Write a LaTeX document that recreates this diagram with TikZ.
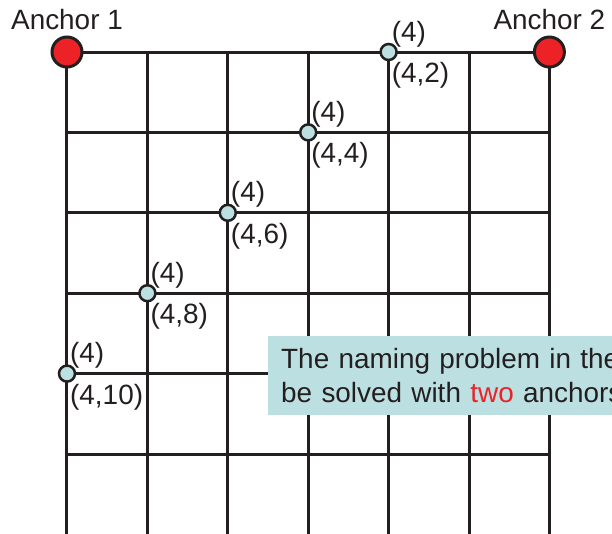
\documentclass[tikz,border=0pt]{standalone}
\usepackage{fontspec}
\setmainfont{Liberation Sans}
\usetikzlibrary{positioning}
\definecolor{nmink}{HTML}{231F20}
\definecolor{nmred}{HTML}{EC2227}
\definecolor{nmcyan}{HTML}{BCE0E2}
\tikzset{
  anchornode/.style={circle,draw=nmink,line width=3bp,fill=nmred,minimum size=30bp,inner sep=0pt},
  relay/.style={circle,draw=nmink,line width=2.5bp,fill=nmcyan,minimum size=16bp,inner sep=0pt},
  lbl/.style={font=\fontsize{28}{32}\selectfont,text=nmink,inner sep=1bp},
  notebox/.style={fill=nmcyan,font=\fontsize{28}{34}\selectfont,text=nmink,align=left,
    text width=440bp,minimum height=79bp,inner xsep=13bp,inner ysep=0pt,anchor=north west},
}

\begin{document}
\begin{tikzpicture}[x=80.4bp,y=80.4bp]
\useasboundingbox (-0.8333,0.6468) rectangle (6.7786,-5.995);
% grid
\foreach \i in {0,...,6}
  \draw[nmink,line width=3bp] (\i,0) -- (\i,-6.3);
\foreach \j in {0,...,5}
  \draw[nmink,line width=3bp] (0,-\j) -- (6,-\j);
% anchors
\node[anchornode] (a1) at (0,0) {};
\node[anchornode] (a2) at (6,0) {};
\node[lbl,above=5bp of a1] (a1lbl) {Anchor 1};
\node[lbl,above=5bp of a2] (a2lbl) {Anchor 2};
% relays along the diagonal
\foreach \k [evaluate=\k as \d using int(2*\k+2)] in {0,...,4} {
  \node[relay] (r\k) at (4-\k,-\k) {};
  \node[lbl,anchor=south west,xshift=2bp,yshift=4bp] (h\k) at (r\k.center) {(4)};
  \node[lbl,anchor=north west,xshift=2bp,yshift=-9bp] (c\k) at (r\k.center) {(4,\d)};
}
% note
\node[notebox] (note) at (2.5,-3.532) {The naming problem in the\\be solved with \textcolor{nmred}{two} anchors};
\end{tikzpicture}
\end{document}
